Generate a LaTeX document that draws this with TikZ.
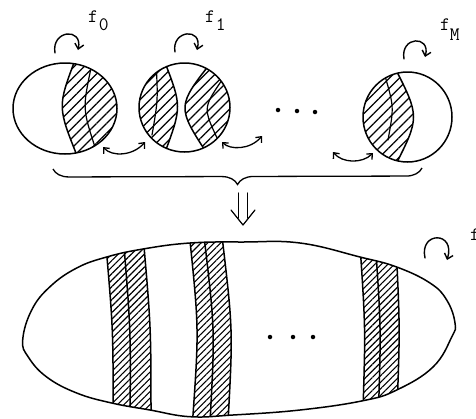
\documentclass[tikz,border=0pt]{standalone}
\usetikzlibrary{patterns.meta,arrows.meta,decorations.pathreplacing,shapes.geometric,calc}
\begin{document}
\begin{tikzpicture}[x=1pt,y=-1pt,
  outline/.style={line width=1.5pt, line join=round, line cap=round},
  fine/.style={line width=1.2pt, line cap=round},
  hatchA/.style={pattern={Lines[angle=45,distance=7pt,line width=1.25pt]}},
  hatchB/.style={pattern={Lines[angle=45,distance=4.6pt,line width=1.1pt]}},
  rot/.style={line width=1.4pt, line cap=round, -{Straight Barb[length=5pt,width=9pt]}},
  link/.style={line width=1.3pt, line cap=round, {Straight Barb[length=4.5pt,width=8pt]}-{Straight Barb[length=4.5pt,width=8pt]}},
  lbl/.style={font=\fontsize{19}{21}\selectfont\ttfamily, inner sep=0pt, anchor=base west},
  dot/.style={circle, fill=black, inner sep=0pt, minimum size=4.5pt},
  ball/.style={ellipse, draw, outline, inner sep=0pt}
]
\useasboundingbox (0,0) rectangle (476,418);

% ---------- hatching of the small spheres ----------
\begin{scope}
  \clip (65,108.5) ellipse [x radius=52pt, y radius=45.5pt];
  \fill[hatchA] (75,60) .. controls (57.5,107) .. (78,158) -- (130,158) -- (130,60) -- cycle;
  \draw[outline] (75,60) .. controls (57.5,107) .. (78,158);
  \draw[fine] (91,68) .. controls (82.5,109) .. (96,150);
\end{scope}
\begin{scope}
  \clip (184.5,107.5) ellipse [x radius=45.5pt, y radius=44.5pt];
  \fill[hatchA] (164,60) .. controls (182,106.5) .. (164,155) -- (130,155) -- (130,60) -- cycle;
  \draw[outline] (164,60) .. controls (182,106.5) .. (164,155);
  \draw[fine] (156,62) .. controls (158,100) .. (152,135);
  \fill[hatchA] (213,60) .. controls (176.5,106.5) .. (208,155) -- (240,155) -- (240,60) -- cycle;
  \draw[outline] (213,60) .. controls (176.5,106.5) .. (208,155);
  \draw[fine] (222,80) .. controls (203,108) .. (218,140);
\end{scope}
\begin{scope}
  \clip (407.5,117) ellipse [x radius=44.5pt, y radius=45pt];
  \fill[hatchA] (394,66) .. controls (420,117) .. (394,168) -- (350,168) -- (350,66) -- cycle;
  \draw[outline] (394,66) .. controls (420,117) .. (394,168);
  \draw[fine] (385,76) .. controls (394,107) .. (388,140);
\end{scope}

% ---------- small spheres ----------
\node[ball, minimum width=104pt, minimum height=91pt] (c0) at (65,108.5) {};
\node[ball, minimum width=91pt, minimum height=89pt] (c1) at (184.5,107.5) {};
\node[ball, minimum width=89pt, minimum height=90pt] (cM) at (407.5,117) {};

% rotation arrows
\draw[rot] (55,53) .. controls (51,30) and (83,27) .. (78,50);
\draw[rot] (175,52) .. controls (171,30) and (203,27) .. (197,50);
\draw[rot] (404,59) .. controls (400,36) and (431,35) .. (425,57);

% labels
\node[lbl] (l0) at (88,22) {f\hspace{1pt}\raisebox{-8pt}{0}};
\node[lbl] (l1) at (205,22) {f\hspace{1pt}\raisebox{-8pt}{1}};
\node[lbl] (lM) at (440,30) {f\raisebox{-10pt}{M}};

% dots
\node[dot] (d1) at (278,110) {};
\node[dot] (d2) at (297,111) {};
\node[dot] (d3) at (315,112) {};

% links between spheres
\coordinate (a0) at (103,147);
\coordinate (a1) at (145,142);
\coordinate (b0) at (222,142);
\coordinate (b1) at (262,136);
\coordinate (m0) at (333,152);
\coordinate (m1) at (373,153);
\draw[link] (a0) .. controls (112,157) and (133,156) .. (a1);
\draw[link] (b0) .. controls (230,150) and (250,150) .. (b1);
\draw[link] (m0) .. controls (342,163) and (362,164) .. (m1);

% brace
\coordinate (bl) at (53,169);
\coordinate (br) at (422,168);
\draw[line width=1.3pt, decorate, decoration={brace, mirror, amplitude=16pt}] (bl) -- (br);

% double arrow
\coordinate (brtip) at (243,193);
\coordinate (bigtop) at (243,225);
\draw[fine] ($(brtip)+(-4.5,0)$) -- ($(bigtop)+(-4.5,-7)$);
\draw[fine] ($(brtip)+(4.5,0)$) -- ($(bigtop)+(4.5,-7)$);
\draw[fine, line join=round] ($(bigtop)+(-12,-15)$) -- (bigtop) -- ($(bigtop)+(12,-15)$);

% ---------- big surface ----------
\begin{scope}
  \clip plot[smooth cycle, tension=0.7] coordinates {(22.7,340) (31.7,310) (50,286.7) (76.7,268) (106.7,257) (143,249) (190,243) (243,242) (300,243) (360,257) (396.7,267) (430,283) (446.7,300) (455,323) (451.7,337) (433,367) (396.7,390) (363,400.7) (300,410) (233,415) (190,416.7) (150,410) (111.7,403) (76.7,393) (46.7,377) (28.3,357)};
  % band 1
  \fill[hatchB] (105.5,240) .. controls (113.25,330) .. (113,420) -- (151,420) .. controls (151,327) .. (143,235) -- cycle;
  \draw[outline] (105.5,240) .. controls (113.25,330) .. (113,420);
  \draw[outline] (123.5,240) .. controls (130.75,330) .. (130,420);
  \draw[outline] (143,235) .. controls (151,327) .. (151,420);
  % band 2
  \fill[hatchB] (189.5,236) .. controls (199,329) .. (192.5,422) -- (228,422) .. controls (233,330) .. (222,236) -- cycle;
  \draw[outline] (189.5,236) .. controls (199,329) .. (192.5,422);
  \draw[outline] (204,236) .. controls (215,330) .. (210,422);
  \draw[outline] (222,236) .. controls (233,330) .. (228,422);
  % band 3
  \fill[hatchB] (360,245) .. controls (365.5,328) .. (363,410) -- (397,410) .. controls (400,328) .. (396,245) -- cycle;
  \draw[outline] (360,245) .. controls (365.5,328) .. (363,410);
  \draw[outline] (375.5,245) .. controls (381,328) .. (378.5,410);
  \draw[outline] (396,245) .. controls (400,328) .. (397,410);
\end{scope}
\draw[outline] plot[smooth cycle, tension=0.7] coordinates {(22.7,340) (31.7,310) (50,286.7) (76.7,268) (106.7,257) (143,249) (190,243) (243,242) (300,243) (360,257) (396.7,267) (430,283) (446.7,300) (455,323) (451.7,337) (433,367) (396.7,390) (363,400.7) (300,410) (233,415) (190,416.7) (150,410) (111.7,403) (76.7,393) (46.7,377) (28.3,357)};

% dots and rotation of big surface
\node[dot] (e1) at (270,337) {};
\node[dot] (e2) at (293,337) {};
\node[dot] (e3) at (313,337) {};
\draw[rot] (425,258) .. controls (419,231) and (456,231) .. (447,260);
\node[lbl] (lb) at (470,240) {f};
\end{tikzpicture}
\end{document}
